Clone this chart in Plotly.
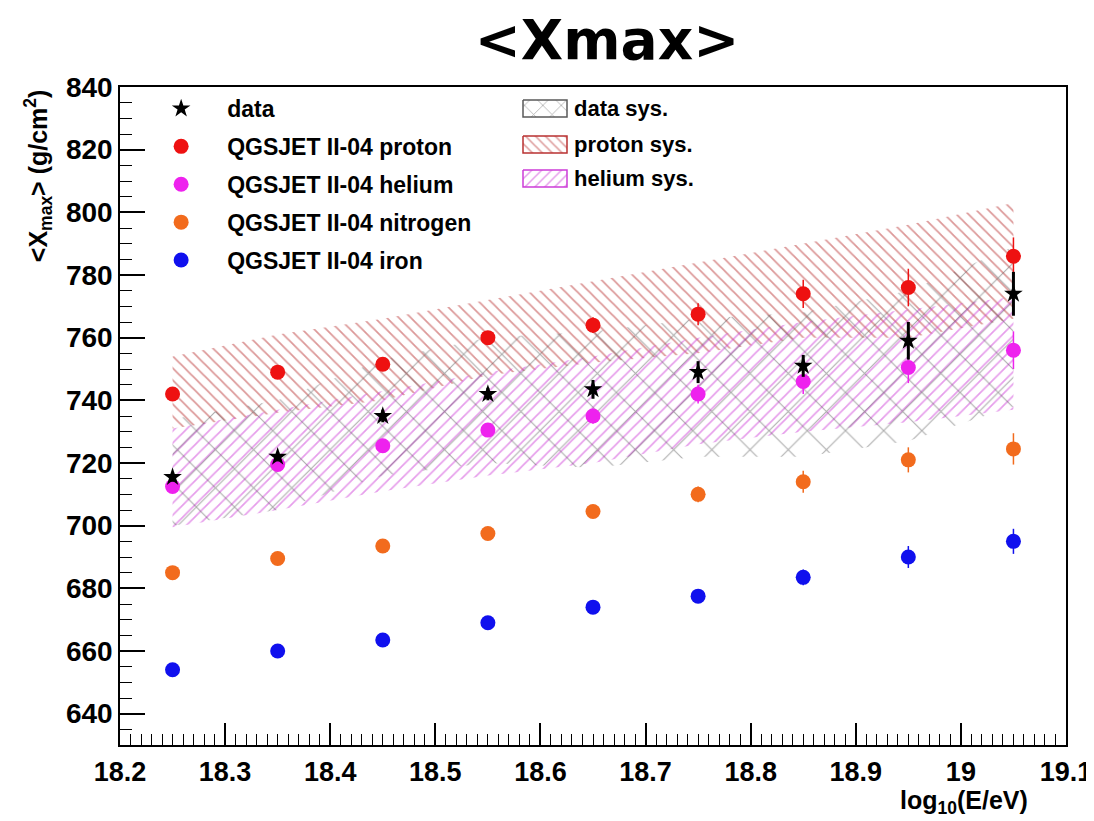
import plotly.graph_objects as go

# ---------------- data ----------------
log_e = [18.25, 18.35, 18.45, 18.55, 18.65, 18.75, 18.85, 18.95, 19.05]

data_xmax = [715.5, 722, 735, 742, 743.5, 749, 751, 759, 774]
data_err = [1.5, 1.5, 2, 2, 3, 3.5, 3.5, 6, 7]

proton_xmax = [742, 749, 751.5, 760, 764, 767.5, 774, 776, 786]
proton_err = [1.5, 1.5, 2, 2, 2.5, 3.5, 4.5, 6, 6]

helium_xmax = [712.5, 719.5, 725.5, 730.5, 735, 742, 746, 750.5, 756]
helium_err = [1.5, 1.5, 1.5, 2, 2.5, 3, 4, 5, 6]

nitrogen_xmax = [685, 689.5, 693.5, 697.5, 704.5, 710, 714, 721, 724.5]
nitrogen_err = [1.5, 1.5, 1.5, 2, 2, 2.5, 3.5, 4, 5]

iron_xmax = [654, 660, 663.5, 669, 674, 677.5, 683.5, 690, 695]
iron_err = [1.5, 1.5, 1.5, 1.5, 2, 2, 2.5, 3.5, 4]

# systematic bands (upper / lower edges)
data_sys_hi = [734, 740, 753, 760, 762, 766, 768, 775, 789]
data_sys_lo = [700, 705, 716, 720, 718.5, 722, 722, 727, 738]
proton_sys_hi = [754, 761, 766, 772, 778, 784, 790, 796, 803]
proton_sys_lo = [731, 736, 740, 748, 752, 755, 760, 760, 766]
helium_sys_hi = [731, 737, 743, 749, 754, 760, 765, 769, 773]
helium_sys_lo = [699.5, 705, 711, 716, 720, 726, 730, 733, 737]

x_ticks = [18.2, 18.3, 18.4, 18.5, 18.6, 18.7, 18.8, 18.9, 19.0, 19.1]
x_tick_text = ["18.2", "18.3", "18.4", "18.5", "18.6", "18.7", "18.8", "18.9", "19", "19.1"]
y_ticks = [640, 660, 680, 700, 720, 740, 760, 780, 800, 820, 840]

sys_names = ["data sys.", "proton sys.", "helium sys."]

FONT = "Liberation Sans"

# page has an 8px body margin: figure starts at (8, 8) on the page
OFF = 8
W, H = 1094 - OFF, 821 - OFF
# plot frame in page pixels
L, R, T, B = 120, 1066, 87, 745

fig = go.Figure()

red_hatch = "rgb(185,50,50)"
mag_hatch = "rgb(205,60,215)"
gray_hatch = "rgb(90,90,90)"


def band(hi, lo, shape, color, size, solidity):
    return go.Scatter(
        x=log_e + log_e[::-1],
        y=hi + lo[::-1],
        fill="toself",
        mode="lines",
        line=dict(width=0, color="rgba(0,0,0,0)"),
        fillcolor="rgba(0,0,0,0)",
        fillpattern=dict(shape=shape, fgcolor=color, size=size, solidity=solidity),
        showlegend=False,
        hoverinfo="skip",
    )


fig.add_trace(band(proton_sys_hi, proton_sys_lo, "\\", red_hatch, 8.5, 0.21))
fig.add_trace(band(helium_sys_hi, helium_sys_lo, "/", mag_hatch, 8.5, 0.2))
fig.add_trace(band(data_sys_hi, data_sys_lo, "x", gray_hatch, 27, 0.08))

series = [
    ("data", data_xmax, data_err, "black", "star", 14, 3),
    ("QGSJET II-04 proton", proton_xmax, proton_err, "#ee1111", "circle", 15, 1.5),
    ("QGSJET II-04 helium", helium_xmax, helium_err, "#ee22ee", "circle", 15, 1.5),
    ("QGSJET II-04 nitrogen", nitrogen_xmax, nitrogen_err, "#f26b1d", "circle", 15, 1.5),
    ("QGSJET II-04 iron", iron_xmax, iron_err, "#1010ee", "circle", 15, 1.5),
]

for rank, (name, yv, err, col, sym, sz, ew) in reversed(list(enumerate(series))):
    fig.add_trace(go.Scatter(
        x=log_e, y=yv, mode="markers", name=name,
        marker=dict(symbol=sym, size=sz, color=col, line=dict(width=0)),
        error_y=dict(type="data", array=err, color=col, thickness=ew, width=0),
        legend="legend", legendrank=rank + 1, legendgroup=name,
    ))

# ---- legend for the systematic bands, drawn on a pixel-scaled overlay axis ----
sys_styles = [("x", gray_hatch, 13, 0.12), ("\\", red_hatch, 7, 0.22), ("/", mag_hatch, 7, 0.22)]
box_x0, box_x1 = 523, 567
box_rows = [(100, 117), (136, 153), (170, 187)]
for (shape, col, size, sol), (y0, y1), name in zip(sys_styles, box_rows, sys_names):
    fig.add_trace(go.Scatter(
        x=[box_x0, box_x1, box_x1, box_x0, box_x0],
        y=[y0, y0, y1, y1, y0],
        xaxis="x2", yaxis="y2", mode="lines", fill="toself",
        line=dict(width=1.5, color=col), fillcolor="rgba(0,0,0,0)",
        fillpattern=dict(shape=shape, fgcolor=col, size=size, solidity=sol),
        showlegend=False, hoverinfo="skip",
    ))
    fig.add_annotation(text=name, xref="x2", yref="y2", x=box_x1 + 5, y=(y0 + y1) / 2,
                       xanchor="left", yanchor="middle", showarrow=False,
                       font=dict(family=FONT, size=22, color="black", weight="bold"))

axis_common = dict(
    showline=True, linecolor="black", linewidth=1.5, mirror=True,
    ticks="inside", tickcolor="black", tickwidth=1.5,
    showgrid=False, zeroline=False, automargin=False, ticklabeloverflow="allow",
)

fig.update_layout(
    xaxis=dict(range=[18.2, 19.1], tickvals=x_ticks, ticktext=x_tick_text, ticklen=22,
               minor=dict(dtick=0.01, ticks="inside", ticklen=11, tickcolor="black", tickwidth=1),
               ticklabelstandoff=2,
               tickfont=dict(family=FONT, size=27, color="black", weight="bold"),
               **axis_common),
    yaxis=dict(range=[630, 840], tickvals=y_ticks, ticklen=25,
               minor=dict(dtick=5, ticks="inside", ticklen=12, tickcolor="black", tickwidth=1),
               tickfont=dict(family=FONT, size=28, color="black", weight="bold"),
               **axis_common),
    xaxis2=dict(overlaying="x", range=[L, R], visible=False, fixedrange=True),
    yaxis2=dict(overlaying="y", range=[B, T], visible=False, fixedrange=True),
)

fig.update_layout(
    width=W, height=H,
    margin=dict(l=L - OFF, r=W - (R - OFF), t=T - OFF, b=H - (B - OFF)),
    paper_bgcolor="white", plot_bgcolor="white",
    title=dict(text="&lt;Xmax&gt;", x=(607 - OFF) / W, xanchor="center",
               y=1 - (40 - OFF) / H, yanchor="middle",
               font=dict(family="DejaVu Sans", size=55, color="black", weight="bold")),
    legend=dict(x=0.016, y=1.0, xanchor="left", yanchor="top",
                bgcolor="rgba(0,0,0,0)", borderwidth=0,
                font=dict(family=FONT, size=23, color="black", weight="bold"),
                traceorder="grouped", tracegroupgap=5, itemwidth=82),
)
fig.add_annotation(text="&lt;X<sub>max</sub>&gt; (g/cm<sup>2</sup>)", textangle=-90,
                   xref="paper", yref="paper", x=-0.087, y=1.0, xanchor="center", yanchor="top",
                   showarrow=False, font=dict(family=FONT, size=25, color="black", weight="bold"))
fig.add_annotation(text="log<sub>10</sub>(E/eV)",
                   xref="paper", yref="paper", x=0.962, y=-0.086, xanchor="right", yanchor="middle",
                   showarrow=False, font=dict(family=FONT, size=25, color="black", weight="bold"))

fig.write_html("out.html")
